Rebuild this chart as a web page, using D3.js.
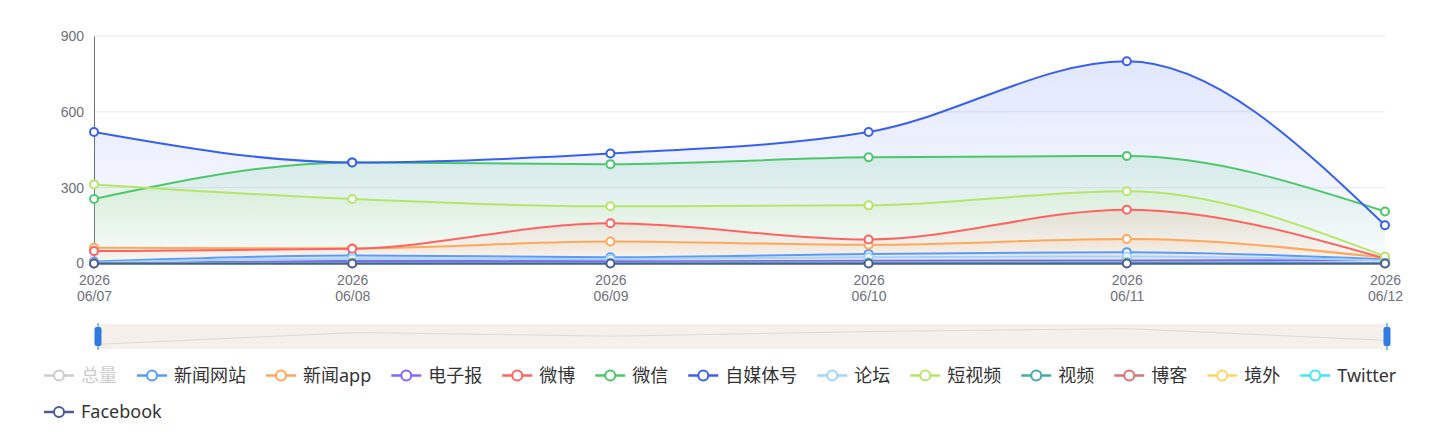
<!DOCTYPE html>
<html>
<head>
<meta charset="utf-8">
<script src="https://cdn.jsdelivr.net/npm/d3@7/dist/d3.min.js"></script>
<style>
  html, body { margin: 0; padding: 0; background: #fff; }
  svg { display: block; font-family: "Noto Sans", "Noto Sans CJK SC", sans-serif; }
</style>
</head>
<body>
<svg id="chart" width="1443" height="447"></svg>
<script>
// ---- data ----
const categories = ["2026/06/07", "2026/06/08", "2026/06/09", "2026/06/10", "2026/06/11", "2026/06/12"];
const yTicks = [0, 300, 600, 900];
const seriesNames = ["总量", "新闻网站", "新闻app", "电子报", "微博", "微信", "自媒体号", "论坛", "短视频", "视频", "博客", "境外", "Twitter", "Facebook"];
const seriesColors = ["#c8c8c8", "#5a9bf8", "#ffa85c", "#8166f8", "#ff6361", "#4cc86b", "#3860f0", "#a6d2ff", "#b5e66a", "#45a9a8", "#d87474", "#ffd46a", "#3fe7f5", "#505a94"];
const totalVals      = [1200, 1750, 1580, 1800, 1930, 1380];
const newsSiteVals   = [8, 32, 25, 38, 45, 16];
const newsAppVals    = [62, 60, 87, 74, 97, 22];
const epaperVals     = [2, 10, 9, 11, 12, 14];
const weiboVals      = [49, 58, 159, 95, 213, 20];
const wechatVals     = [255, 400, 393, 420, 425, 206];
const selfMediaVals  = [520, 400, 435, 520, 800, 151];
const forumVals      = [3, 20, 18, 25, 28, 12];
const shortVideoVals = [313, 255, 226, 230, 286, 28];
const videoVals      = [1, 3, 3, 4, 5, 2];
const blogVals       = [0, 1, 1, 1, 2, 1];
const overseasVals   = [0, 2, 2, 3, 3, 1];
const twitterVals    = [0, 1, 1, 2, 2, 1];
const facebookVals   = [0, 0, 0, 0, 0, 0];
const hiddenSeries = ["总量"];

const seriesValues = [totalVals, newsSiteVals, newsAppVals, epaperVals, weiboVals, wechatVals, selfMediaVals,
  forumVals, shortVideoVals, videoVals, blogVals, overseasVals, twitterVals, facebookVals];
const series = seriesNames.map((n, i) => ({ name: n, color: seriesColors[i], values: seriesValues[i], hidden: hiddenSeries.includes(n), idx: i }));
const shown = series.filter(s => !s.hidden);

// ---- layout ----
const svg = d3.select("#chart");
const gLeft = 94, gRight = 1385, gTop = 36, gBottom = 263.5;

const x = d3.scalePoint().domain(categories).range([gLeft, gRight]);
const y = d3.scaleLinear().domain([0, 900]).range([gBottom, gTop]);

// grid
svg.append("g").selectAll("line").data(yTicks.filter(d => d > 0)).join("line")
  .attr("x1", gLeft).attr("x2", gRight)
  .attr("y1", d => y(d)).attr("y2", d => y(d))
  .attr("stroke", "#e8eaf0").attr("stroke-width", 1);

// y axis
const yAxis = d3.axisLeft(y).tickValues(yTicks).tickSize(0).tickPadding(10).tickFormat(d3.format("d"));
const gy = svg.append("g").attr("transform", `translate(${gLeft},0)`).call(yAxis);
gy.select(".domain").attr("stroke", "#6e7079").attr("stroke-width", 1);
gy.selectAll("text").attr("fill", "#6e7079").style("font-size", "14px");

// x axis
const xAxis = d3.axisBottom(x).tickSize(0).tickPadding(0).tickFormat(() => "");
const gx = svg.append("g").attr("transform", `translate(0,${gBottom})`).call(xAxis);
gx.select(".domain").attr("stroke", "#6e7079").attr("stroke-width", 1);
gx.selectAll(".tick").each(function(d) {
  const parts = d.split("/");
  const t = d3.select(this).append("text").attr("fill", "#6e7079").attr("text-anchor", "middle")
    .style("font-size", "14px");
  t.append("tspan").attr("x", 0).attr("y", 21).text(parts[0]);
  t.append("tspan").attr("x", 0).attr("y", 37).text(parts[1] + "/" + parts[2]);
});

// gradients
const defs = svg.append("defs");
series.forEach((s, i) => {
  const g = defs.append("linearGradient").attr("id", "grad" + i).attr("x1", 0).attr("y1", 0).attr("x2", 0).attr("y2", 1);
  g.append("stop").attr("offset", "0%").attr("stop-color", s.color).attr("stop-opacity", 0.15);
  g.append("stop").attr("offset", "100%").attr("stop-color", s.color).attr("stop-opacity", 0.01);
});

const line = d3.line().x((d, i) => x(categories[i])).y(d => y(d)).curve(d3.curveMonotoneX);
const area = d3.area().x((d, i) => x(categories[i])).y0(gBottom).y1(d => y(d)).curve(d3.curveMonotoneX);

const plot = svg.append("g");
// areas
plot.append("g").selectAll("path").data(shown).join("path")
  .attr("d", s => area(s.values)).attr("fill", s => `url(#grad${s.idx})`);
// lines + symbols per series
shown.forEach(s => {
  const g = plot.append("g");
  g.append("path").attr("d", line(s.values)).attr("fill", "none").attr("stroke", s.color).attr("stroke-width", 2);
  g.selectAll("circle").data(s.values).join("circle")
    .attr("cx", (d, j) => x(categories[j])).attr("cy", d => y(d)).attr("r", 4)
    .attr("fill", "#fff").attr("stroke", s.color).attr("stroke-width", 2);
});

// ---- data zoom slider ----
const zx0 = 98, zx1 = 1387, zy0 = 324, zy1 = 349;
svg.append("rect").attr("x", zx0).attr("y", zy0).attr("width", zx1 - zx0).attr("height", zy1 - zy0).attr("fill", "#f5f0eb");
const ext = d3.extent(totalVals), pad = (ext[1] - ext[0]) * 0.3;
const zxs = d3.scalePoint().domain(categories).range([zx0, zx1]);
const zys = d3.scaleLinear().domain([ext[0] - pad, ext[1] + pad]).range([zy1, zy0]);
svg.append("path").attr("d", d3.line().x((d, i) => zxs(categories[i])).y(d => zys(d))(totalVals))
  .attr("fill", "none").attr("stroke", "#dedad5").attr("stroke-width", 1);
[zx0, zx1].forEach(hx => {
  svg.append("line").attr("x1", hx).attr("x2", hx).attr("y1", zy0 - 1).attr("y2", zy1 + 1)
    .attr("stroke", "#2f7be0").attr("stroke-width", 1);
  svg.append("rect").attr("x", hx - 3.5).attr("y", 327).attr("width", 7).attr("height", 19).attr("rx", 2)
    .attr("fill", "#2f7be0");
});

// ---- legend ----
const legend = svg.append("g");
let lx = 44, ly = 375.5;
const itemGap = 20, iconW = 30, textGap = 7, maxX = 1430;
series.forEach((s, i) => {
  const col = s.hidden ? "#cccccc" : s.color;
  const g = legend.append("g");
  const t = g.append("text").attr("x", iconW + textGap).attr("y", 0).attr("dy", "0.35em")
    .style("font-size", "18px").attr("fill", s.hidden ? "#cccccc" : "#333").text(s.name);
  const w = iconW + textGap + t.node().getComputedTextLength();
  if (lx + w > maxX) { lx = 44; ly += 36.5; }
  g.attr("transform", `translate(${lx},${ly})`);
  g.append("line").attr("x1", 0).attr("x2", iconW).attr("y1", 0).attr("y2", 0).attr("stroke", col).attr("stroke-width", 2.5);
  g.append("circle").attr("cx", iconW / 2).attr("cy", 0).attr("r", 5).attr("fill", "#fff").attr("stroke", col).attr("stroke-width", 2);
  lx += w + itemGap;
});
</script>
</body>
</html>
